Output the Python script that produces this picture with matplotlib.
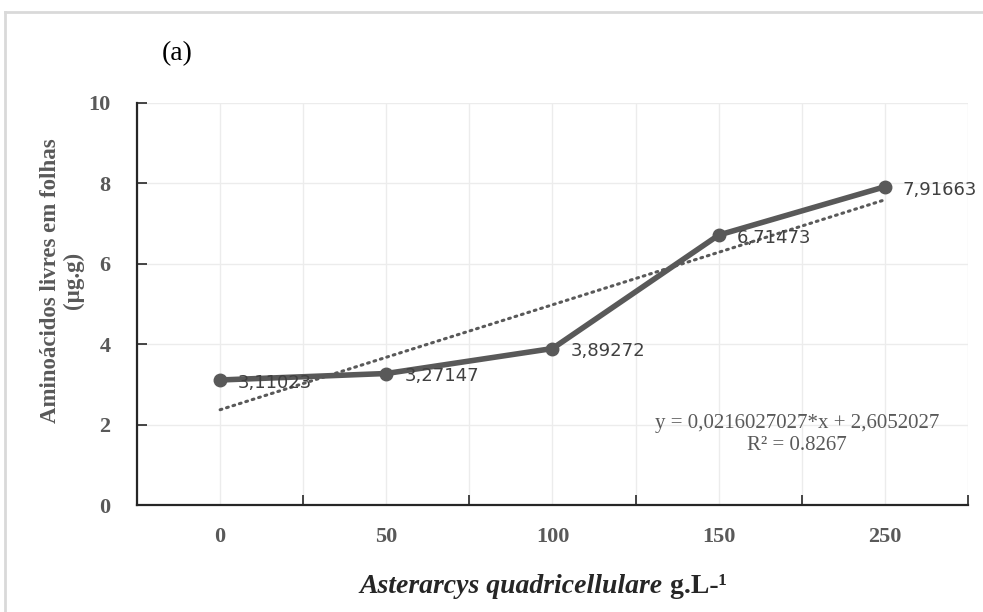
import numpy as np
import matplotlib.pyplot as plt
from matplotlib.lines import Line2D

# Dados
doses = ['0', '50', '100', '150', '250']
aminoacidos = [3.11023, 3.27147, 3.89272, 6.71473, 7.91663]
rotulos = ['3,11023', '3,27147', '3,89272', '6,71473', '7,91663']
equacao = 'y = 0,0216027027*x + 2,6052027'
r2 = 'R² = 0.8267'

cinza = '#595959'
serif = ['Liberation Serif', 'DejaVu Serif']

fig = plt.figure(figsize=(9.83, 6.12), dpi=100)
ax = fig.add_axes([0.1394, 0.1748, 0.8453, 0.6569])

x = np.arange(len(doses))
y = np.array(aminoacidos)

# linha de tendência (Excel usa x = 1..n no eixo de categorias)
coef = np.polyfit(x + 1, y, 1)
ax.plot(x, np.polyval(coef, x + 1), color=cinza, lw=2.2, ls=(0, (0.6, 1.6)),
        dash_capstyle='round', zorder=3)

ax.plot(x, y, color=cinza, lw=4, marker='o', ms=9, zorder=4)

for xi, yi, lab in zip(x, y, rotulos):
    ax.annotate(lab, (xi, yi), xytext=(13, -2), textcoords='offset points',
                ha='left', va='center', fontsize=13, color='#404040',
                family='DejaVu Sans', zorder=5)

ax.set_xlim(-0.5, 4.5)
ax.set_ylim(0, 10)
ax.set_xticks(x)
ax.set_xticklabels(doses)
ax.set_xticks(np.arange(-0.5, 4.6, 1.0), minor=True)
ax.set_yticks(np.arange(0, 11, 2))

ax.tick_params(axis='x', which='major', length=0, pad=16)
ax.tick_params(axis='x', which='minor', direction='in', length=7, width=1.2, color='#262626')
ax.tick_params(axis='y', direction='in', length=7, width=1.2, color='#262626', pad=19)
for lab in ax.get_xticklabels() + ax.get_yticklabels():
    lab.set_family(serif)
    lab.set_fontweight('bold')
    lab.set_fontsize(16)
    lab.set_color(cinza)

ax.grid(True, which='both', axis='x', color='#ececec', lw=1)
ax.grid(True, which='major', axis='y', color='#ececec', lw=1)
ax.set_axisbelow(True)
for s in ['top', 'right']:
    ax.spines[s].set_visible(False)
for s in ['left', 'bottom']:
    ax.spines[s].set_color('#262626')
    ax.spines[s].set_linewidth(1.6)

# equação da tendência
ax.text(3.47, 2.02, equacao, ha='center', va='center', fontsize=15,
        family=serif, color=cinza)
ax.text(3.47, 1.47, r2, ha='center', va='center', fontsize=15,
        family=serif, color=cinza)

# títulos dos eixos
fig.text(0.063, 0.541, 'Aminoácidos livres em folhas\n(µg.g)', rotation=90,
         ha='center', va='center', fontsize=16.5, fontweight='bold',
         family=serif, color=cinza, linespacing=1.1)
t1 = fig.text(0.6745, 0.031, 'Asterarcys quadricellulare', ha='right', va='baseline',
              fontsize=20, fontweight='bold', style='italic', family=serif,
              color='#262626')
ax.annotate(' g.L-¹', xy=(1, 0), xycoords=t1, va='bottom', ha='left',
            fontsize=20, fontweight='bold', family=serif, color='#262626',
            annotation_clip=False)

fig.text(0.165, 0.912, '(a)', fontsize=20, family=serif, color='black',
         ha='left', va='center')

# moldura cinza do gráfico
fig.add_artist(Line2D([5 / 983, 5 / 983], [0, 1 - 12 / 612], color='#d9d9d9', lw=2,
                      transform=fig.transFigure))
fig.add_artist(Line2D([5 / 983, 1], [1 - 12 / 612, 1 - 12 / 612], color='#d9d9d9', lw=2,
                      transform=fig.transFigure))

fig.savefig('out.png', dpi=100)
